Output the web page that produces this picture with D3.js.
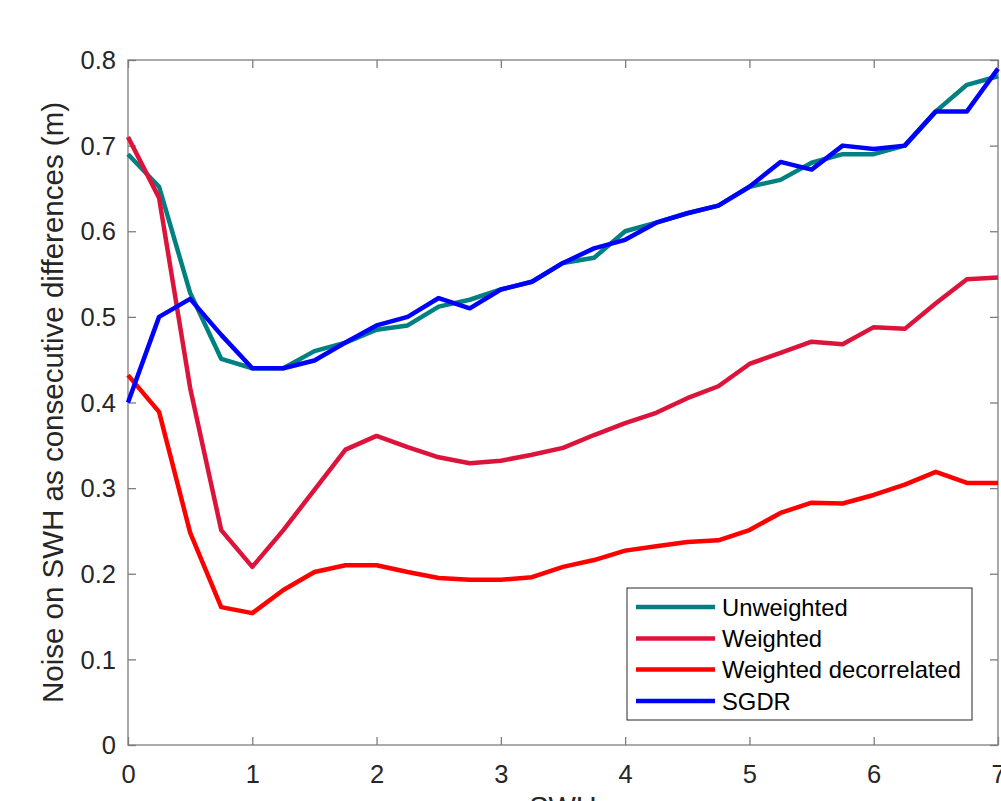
<!DOCTYPE html>
<html>
<head>
<meta charset="utf-8">
<script src="https://cdn.jsdelivr.net/npm/d3@7"></script>
<style>
  html, body { margin: 0; padding: 0; background: #fff; }
  svg { display: block; font-family: "Liberation Sans", Arial, Helvetica, sans-serif; }
</style>
</head>
<body>
<svg id="chart" width="1001" height="801"></svg>
<script>
// SWH bins (m)
const swh = [0, 0.25, 0.5, 0.75, 1, 1.25, 1.5, 1.75, 2, 2.25, 2.5, 2.75, 3, 3.25, 3.5,
             3.75, 4, 4.25, 4.5, 4.75, 5, 5.25, 5.5, 5.75, 6, 6.25, 6.5, 6.75, 7];

// Noise on SWH as consecutive differences (m), per processing
const unweighted = [0.69, 0.652, 0.528, 0.451, 0.44, 0.44, 0.46, 0.47, 0.485, 0.49, 0.512, 0.52, 0.532, 0.541, 0.563,
                    0.569, 0.60, 0.61, 0.621, 0.63, 0.652, 0.66, 0.68, 0.69, 0.69, 0.70, 0.74, 0.771, 0.781];
const weighted = [0.71, 0.639, 0.417, 0.251, 0.208, 0.251, 0.298, 0.345, 0.361, 0.348, 0.336, 0.329, 0.332, 0.339, 0.347,
                  0.362, 0.376, 0.388, 0.405, 0.419, 0.445, 0.458, 0.471, 0.468, 0.488, 0.486, 0.516, 0.544, 0.546];
const weightedDecorrelated = [0.432, 0.389, 0.248, 0.161, 0.154, 0.181, 0.202, 0.210, 0.210, 0.202, 0.195, 0.193, 0.193, 0.196, 0.208,
                              0.216, 0.227, 0.232, 0.237, 0.239, 0.251, 0.271, 0.283, 0.282, 0.292, 0.304, 0.319, 0.306, 0.306];
const sgdr = [0.40, 0.50, 0.521, 0.479, 0.44, 0.44, 0.449, 0.47, 0.49, 0.50, 0.522, 0.51, 0.532, 0.541, 0.563,
              0.58, 0.59, 0.61, 0.621, 0.63, 0.652, 0.681, 0.672, 0.70, 0.696, 0.70, 0.74, 0.74, 0.79];

const seriesNames = ["Unweighted", "Weighted", "Weighted decorrelated", "SGDR"];
const seriesColors = ["#008080", "#DC143C", "#FF0000", "#0000FF"];
const seriesValues = [unweighted, weighted, weightedDecorrelated, sgdr];

const xTicks = [0, 1, 2, 3, 4, 5, 6, 7];
const yTicks = [0, 0.1, 0.2, 0.3, 0.4, 0.5, 0.6, 0.7, 0.8];

const xLabel = "SWH";
const yLabel = "Noise on SWH as consecutive differences (m)";

(function draw() {
  // plot frame in pixels
  const frame = { left: 128, right: 998, top: 60, bottom: 745 };
  const axisColor = "#7d7d7d";
  const textColor = "#262626";

  const svg = d3.select("#chart");

  const x = d3.scaleLinear().domain([0, 7]).range([frame.left, frame.right]);
  const y = d3.scaleLinear().domain([0, 0.8]).range([frame.bottom, frame.top]);

  // axes with inward ticks on all four sides
  const tickLen = 8;
  const gx = svg.append("g").attr("transform", `translate(0,${frame.bottom})`)
    .call(d3.axisBottom(x).tickValues(xTicks).tickSizeInner(-tickLen).tickSizeOuter(0).tickPadding(20)
          .tickFormat(d3.format("d")));
  const gxTop = svg.append("g").attr("transform", `translate(0,${frame.top})`)
    .call(d3.axisTop(x).tickValues(xTicks).tickSizeInner(-tickLen).tickSizeOuter(0).tickFormat(""));
  const gy = svg.append("g").attr("transform", `translate(${frame.left},0)`)
    .call(d3.axisLeft(y).tickValues(yTicks).tickSizeInner(-tickLen).tickSizeOuter(0).tickPadding(12)
          .tickFormat(d => d === 0 ? "0" : d3.format(".1f")(d)));
  const gyRight = svg.append("g").attr("transform", `translate(${frame.right},0)`)
    .call(d3.axisRight(y).tickValues(yTicks).tickSizeInner(-tickLen).tickSizeOuter(0).tickFormat(""));

  [gx, gxTop, gy, gyRight].forEach(g => {
    g.select(".domain").remove();
    g.selectAll(".tick line").attr("stroke", axisColor).attr("stroke-width", 1.3);
    g.selectAll(".tick text").attr("fill", textColor)
      .style("font-family", "'Liberation Sans', Arial, Helvetica, sans-serif")
      .style("font-size", "25.5px");
  });
  gx.selectAll(".tick text").attr("dy", "0.71em");
  gy.selectAll(".tick text").attr("dy", "0.34em");

  // plot box
  svg.append("rect")
    .attr("x", frame.left).attr("y", frame.top)
    .attr("width", frame.right - frame.left).attr("height", frame.bottom - frame.top)
    .attr("fill", "none").attr("stroke", axisColor).attr("stroke-width", 1.3);

  // series lines
  const line = d3.line().x((d, i) => x(swh[i])).y(d => y(d));
  svg.append("clipPath").attr("id", "plot-clip")
    .append("rect").attr("x", frame.left - 4).attr("y", frame.top - 6)
    .attr("width", frame.right - frame.left + 8).attr("height", frame.bottom - frame.top + 10);

  svg.append("g").attr("clip-path", "url(#plot-clip)")
    .selectAll("path.series")
    .data(seriesValues)
    .join("path")
    .attr("class", "series")
    .attr("d", d => line(d))
    .attr("fill", "none")
    .attr("stroke", (d, i) => seriesColors[i])
    .attr("stroke-width", 4.5)
    .attr("stroke-linejoin", "round");

  // axis labels
  svg.append("text")
    .attr("x", (frame.left + frame.right) / 2).attr("y", 817)
    .attr("text-anchor", "middle")
    .attr("fill", textColor)
    .style("font-size", "29px")
    .text(xLabel);

  svg.append("text")
    .attr("transform", `translate(63,${(frame.top + frame.bottom) / 2}) rotate(-90)`)
    .attr("text-anchor", "middle")
    .attr("fill", textColor)
    .style("font-size", "29.5px")
    .text(yLabel);

  // legend
  const legend = svg.append("g");
  legend.append("rect")
    .attr("x", 627).attr("y", 588).attr("width", 345).attr("height", 132)
    .attr("fill", "#fff").attr("stroke", textColor).attr("stroke-width", 1);

  const rowY = [607, 638.5, 669.5, 701];
  const rows = legend.selectAll("g.row")
    .data(seriesNames)
    .join("g")
    .attr("class", "row")
    .attr("transform", (d, i) => `translate(0,${rowY[i]})`);
  rows.append("line")
    .attr("x1", 636).attr("x2", 715).attr("y1", 0).attr("y2", 0)
    .attr("stroke", (d, i) => seriesColors[i])
    .attr("stroke-width", 4.5);
  rows.append("text")
    .attr("x", 722).attr("y", 0).attr("dy", "0.36em")
    .attr("fill", "#000")
    .style("font-size", "23.8px")
    .text(d => d);
})();
</script>
</body>
</html>
